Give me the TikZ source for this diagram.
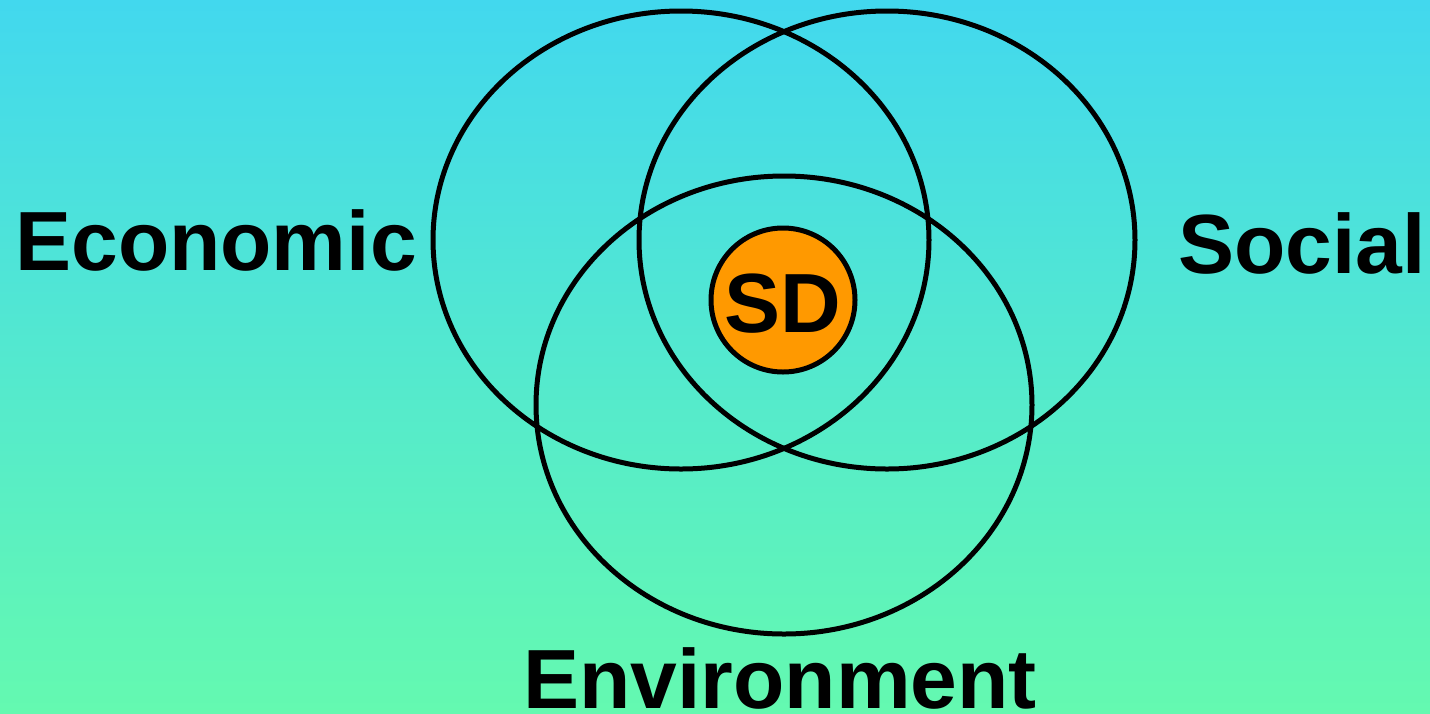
\documentclass[tikz,border=0pt]{standalone}
\usepackage{fontspec}
\setmainfont{Liberation Sans}
\definecolor{bgtop}{RGB}{66,216,238}
\definecolor{bgbot}{RGB}{100,249,176}
\definecolor{sdorange}{RGB}{255,153,0}
\tikzset{
  ring/.style={draw=black,line width=5pt},
  biglabel/.style={font=\fontsize{84}{84}\selectfont\bfseries,text=black,inner sep=0pt,anchor=base},
}
\begin{document}
\begin{tikzpicture}[x=1pt,y=-1pt]
\useasboundingbox (0,0) rectangle (1430,713);
\shade[top color=bgtop,bottom color=bgbot] (0,0) rectangle (1430,713);
\draw[ring] (681,240) ellipse [x radius=248, y radius=229];
\draw[ring] (887,240) ellipse [x radius=248, y radius=229];
\draw[ring] (784,405) ellipse [x radius=248, y radius=229];
\node[circle,draw=black,line width=5pt,fill=sdorange,minimum size=144pt,inner sep=0pt] (sd) at (783,300) {};
\node[biglabel] (sdt) at (783,332) {SD};
\node[biglabel] (eco) at (216,270) {Economic};
\node[biglabel] (soc) at (1302,273) {Social};
\node[biglabel] (env) at (780,708) {Environment};
\end{tikzpicture}
\end{document}
